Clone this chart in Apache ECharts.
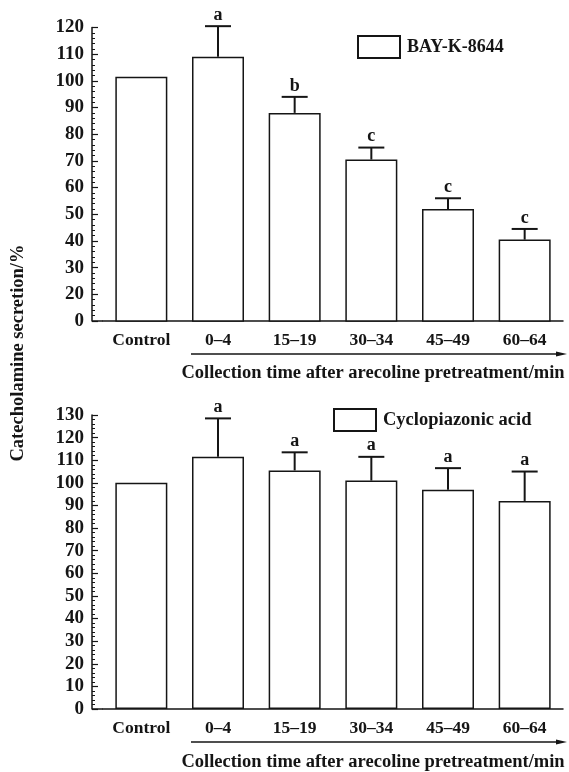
<!DOCTYPE html>
<html>
<head>
<meta charset="utf-8">
<script src="https://cdn.jsdelivr.net/npm/echarts@6/dist/echarts.min.js"></script>
<style>html,body{margin:0;padding:0;background:#fff;}#c{width:569px;height:772px;}</style>
</head>
<body>
<div id="c"></div>
<script>
var categories = ['Control', '0\u20134', '15\u201319', '30\u201334', '45\u201349', '60\u201364'];
var bayName = 'BAY-K-8644';
var bayMeans = [101.5, 109, 88, 70.5, 52, 40.5];
var bayErrs = [0, 11.5, 6, 4.5, 4, 4];
var bayLetters = ['', 'a', 'b', 'c', 'c', 'c'];
var cpaName = 'Cyclopiazonic acid';
var cpaMeans = [100, 111.5, 105.5, 101, 97, 92];
var cpaErrs = [0, 17, 8, 10.5, 9.5, 13];
var cpaLetters = ['', 'a', 'a', 'a', 'a', 'a'];
var yTitle = 'Catecholamine secretion/%';
var xTitle = 'Collection time after arecoline pretreatment/min';

var FONT = '"Liberation Serif", "DejaVu Serif", serif';
var INK = '#151515';

function errRender(letters) {
  return function (params, api) {
    var i = api.value(0), mean = api.value(1), err = api.value(2);
    if (!err) return null;
    var b = api.coord([i, mean]);
    var t = api.coord([i, mean + err]);
    var hw = 13;
    return {
      type: 'group',
      children: [
        {type: 'line', shape: {x1: b[0], y1: b[1], x2: t[0], y2: t[1]}, style: {stroke: INK, lineWidth: 2}},
        {type: 'line', shape: {x1: t[0] - hw, y1: t[1], x2: t[0] + hw, y2: t[1]}, style: {stroke: INK, lineWidth: 2}},
        {type: 'text', x: t[0], y: t[1] - 2, style: {text: letters[i], align: 'center', verticalAlign: 'bottom', font: 'bold 18px ' + FONT, fill: INK}}
      ]
    };
  };
}

function errData(means, errs) {
  return means.map(function (m, i) { return [i, m, errs[i]]; });
}

function yAxisCfg(gi, min, max, fmt) {
  return {
    type: 'value', gridIndex: gi, min: min, max: max, interval: 10, offset: 11,
    axisLine: {show: true, lineStyle: {color: INK, width: 1.5}},
    axisTick: {show: true, inside: true, length: 6, lineStyle: {color: INK, width: 1.2}},
    minorTick: {show: true, splitNumber: 5, length: 3, lineStyle: {color: INK, width: 1}},
    splitLine: {show: false},
    axisLabel: {margin: 8, color: INK, fontFamily: FONT, fontWeight: 'bold', fontSize: 19, formatter: fmt}
  };
}

function xAxisCfg(gi) {
  return {
    type: 'category', gridIndex: gi, data: categories,
    axisLine: {show: true, lineStyle: {color: INK, width: 1.5}},
    axisTick: {show: false},
    axisLabel: {margin: 10, color: INK, fontFamily: FONT, fontWeight: 'bold', fontSize: 17.5}
  };
}

var barStyle = {color: '#ffffff', borderColor: INK, borderWidth: 1.5};

function arrow(y) {
  return {
    type: 'group', children: [
      {type: 'line', shape: {x1: 191, y1: y, x2: 560, y2: y}, style: {stroke: INK, lineWidth: 1.5}},
      {type: 'polygon', shape: {points: [[556, y - 2.5], [567, y], [556, y + 2.5]]}, style: {fill: INK}}
    ]
  };
}

var chart = echarts.init(document.getElementById('c'), null, {renderer: 'canvas'});
chart.setOption({
  backgroundColor: '#ffffff',
  animation: false,
  grid: [
    {left: 103, right: 6, top: 27.5, height: 293.5},
    {left: 103, right: 6, top: 415, height: 294}
  ],
  xAxis: [xAxisCfg(0), xAxisCfg(1)],
  yAxis: [
    yAxisCfg(0, 10, 120, function (v) { return v === 10 ? '0' : String(v); }),
    yAxisCfg(1, 0, 130, function (v) { return String(v); })
  ],
  legend: [
    {data: [bayName], left: 352, top: 30, itemWidth: 42, itemHeight: 22, itemGap: 10, icon: 'rect',
     textStyle: {color: INK, fontFamily: FONT, fontWeight: 'bold', fontSize: 18, padding: [0, 0, 0, 2]}},
    {data: [cpaName], left: 328, top: 403, itemWidth: 42, itemHeight: 22, itemGap: 10, icon: 'rect',
     textStyle: {color: INK, fontFamily: FONT, fontWeight: 'bold', fontSize: 18.5, padding: [0, 0, 0, 2]}}
  ],
  series: [
    {name: bayName, type: 'bar', xAxisIndex: 0, yAxisIndex: 0, data: bayMeans, barWidth: 52, itemStyle: barStyle},
    {name: 'bayErr', type: 'custom', xAxisIndex: 0, yAxisIndex: 0, data: errData(bayMeans, bayErrs), renderItem: errRender(bayLetters), z: 5, clip: false},
    {name: cpaName, type: 'bar', xAxisIndex: 1, yAxisIndex: 1, data: cpaMeans, barWidth: 52, itemStyle: barStyle},
    {name: 'cpaErr', type: 'custom', xAxisIndex: 1, yAxisIndex: 1, data: errData(cpaMeans, cpaErrs), renderItem: errRender(cpaLetters), z: 5, clip: false}
  ],
  graphic: [
    {type: 'line', shape: {x1: 92, y1: 321, x2: 103, y2: 321}, style: {stroke: INK, lineWidth: 1.5}},
    {type: 'line', shape: {x1: 92, y1: 709, x2: 103, y2: 709}, style: {stroke: INK, lineWidth: 1.5}},
    {type: 'text', x: 18, y: 353, rotation: Math.PI / 2,
     style: {text: yTitle, align: 'center', verticalAlign: 'middle', font: 'bold 18.5px ' + FONT, fill: INK}},
    arrow(354),
    arrow(742),
    {type: 'text', x: 373, y: 373, style: {text: xTitle, align: 'center', verticalAlign: 'middle', font: 'bold 18.5px ' + FONT, fill: INK}},
    {type: 'text', x: 373, y: 762, style: {text: xTitle, align: 'center', verticalAlign: 'middle', font: 'bold 18.5px ' + FONT, fill: INK}}
  ]
});
</script>
</body>
</html>
